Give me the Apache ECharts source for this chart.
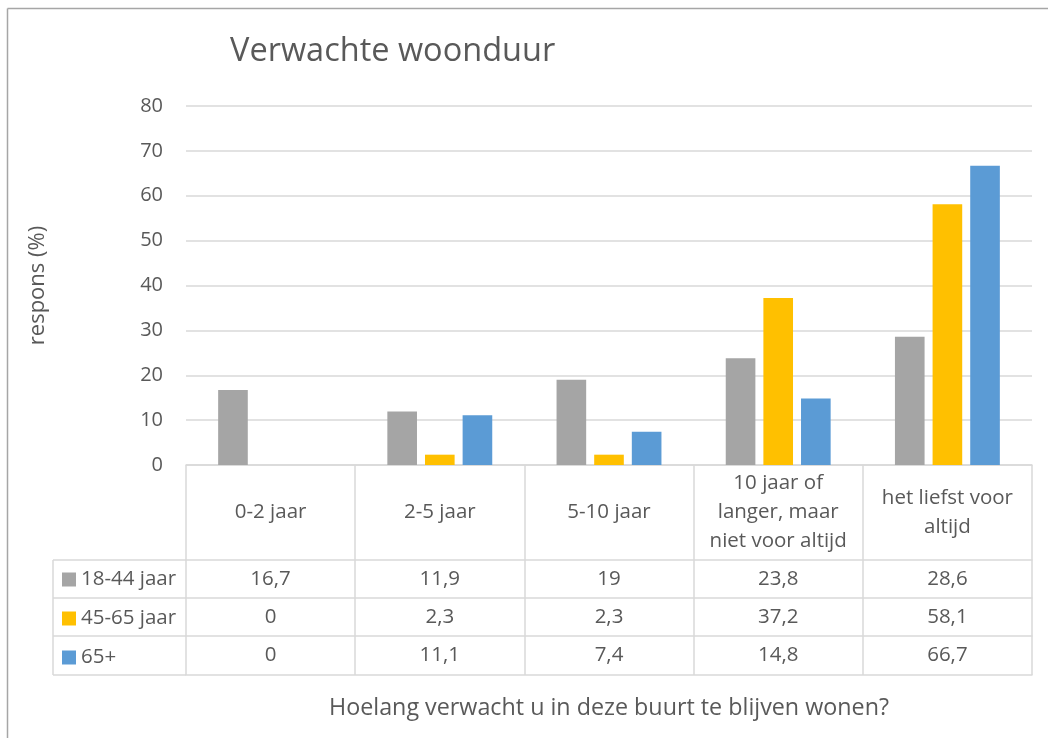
<!DOCTYPE html>
<html>
<head>
<meta charset="utf-8">
<script src="https://cdn.jsdelivr.net/npm/echarts@6/dist/echarts.min.js"></script>
<style>
  html, body { margin: 0; padding: 0; background: #fff; }
  #main { width: 1048px; height: 738px; }
</style>
</head>
<body>
<div id="main"></div>
<script>
// data
const categories = ['0-2 jaar', '2-5 jaar', '5-10 jaar', '10 jaar of\nlanger, maar\nniet voor altijd', 'het liefst voor\naltijd'];
const seriesNames = ['18-44 jaar', '45-65 jaar', '65+'];
const young = [16.7, 11.9, 19, 23.8, 28.6];
const middle = [0, 2.3, 2.3, 37.2, 58.1];
const senior = [0, 11.1, 7.4, 14.8, 66.7];
const yTicks = [0, 80, 10]; // min, max, interval

const colors = ['#A5A5A5', '#FFC000', '#5B9BD5'];
const txt = '#595959';
const line = '#D9D9D9';
const font = '"Open Sans", Lato, sans-serif';

// layout of plot + data table
const gLeft = 186, gRight = 1032, gTop = 106, gBottom = 465;
const rowTops = [560, 598, 636, 675];
const tableLeft = 53;

const fmt = v => String(v).replace('.', ',');
const rows = [young, middle, senior];

let myChart = echarts.init(document.getElementById('main'));

let xAxes = [{
  type: 'category',
  data: categories,
  position: 'bottom',
  axisLine: { lineStyle: { color: line, width: 1.5 } },
  axisTick: { show: true, length: rowTops[3] - gBottom, lineStyle: { color: line, width: 1.5 } },
  axisLabel: {
    color: txt, fontSize: 20.5, fontFamily: font, lineHeight: 29,
    verticalAlign: 'middle', margin: (rowTops[0] - gBottom) / 2, interval: 0
  }
}];
rows.forEach((r, i) => {
  xAxes.push({
    type: 'category',
    data: r.map(fmt),
    position: 'bottom',
    offset: rowTops[i] - gBottom,
    axisLine: { lineStyle: { color: line, width: 1.5 } },
    axisTick: { show: false },
    axisLabel: {
      color: txt, fontSize: 20.5, fontFamily: font,
      verticalAlign: 'middle', margin: (rowTops[i + 1] - rowTops[i]) / 2, interval: 0
    }
  });
});
xAxes.push({
  type: 'category',
  data: categories,
  position: 'bottom',
  offset: rowTops[3] - gBottom,
  axisLine: { lineStyle: { color: line, width: 1.5 } },
  axisTick: { show: false },
  axisLabel: { show: false },
  name: 'Hoelang verwacht u in deze buurt te blijven wonen?',
  nameLocation: 'middle',
  nameGap: 22,
  nameTextStyle: { color: txt, fontSize: 23.3, fontFamily: font }
});

// legend column lines (left of the plot area)
let tableLines = rowTops.map(y => ({
  type: 'line', shape: { x1: tableLeft, y1: y, x2: gLeft, y2: y },
  style: { stroke: line, lineWidth: 1.5 }
}));
tableLines.push({
  type: 'line', shape: { x1: tableLeft, y1: rowTops[0], x2: tableLeft, y2: rowTops[3] },
  style: { stroke: line, lineWidth: 1.5 }
});

let option = {
  backgroundColor: '#fff',
  animation: false,
  color: colors,
  title: {
    text: 'Verwachte woonduur',
    left: 225, top: 30,
    textStyle: { color: txt, fontSize: 32.5, fontWeight: 'normal', fontFamily: font }
  },
  legend: {
    data: seriesNames,
    orient: 'vertical',
    left: 62, top: rowTops[0] + 9,
    padding: 0,
    itemWidth: 14, itemHeight: 14, itemGap: 18,
    icon: 'rect',
    textStyle: { color: txt, fontSize: 20.5, fontFamily: font, lineHeight: 20 }
  },
  grid: { left: gLeft, right: 1048 - gRight, top: gTop, bottom: 738 - gBottom, containLabel: false },
  xAxis: xAxes,
  yAxis: {
    type: 'value',
    min: yTicks[0], max: yTicks[1], interval: yTicks[2],
    axisLine: { show: false },
    axisTick: { show: false },
    axisLabel: { color: txt, fontSize: 20, fontFamily: font, margin: 23 },
    splitLine: { lineStyle: { color: line, width: 1.5 } },
    name: 'respons (%)',
    nameLocation: 'middle',
    nameGap: 137,
    nameTextStyle: { color: txt, fontSize: 22, fontFamily: font }
  },
  series: [
    { name: seriesNames[0], type: 'bar', data: young, barGap: '27%', barCategoryGap: '38%' },
    { name: seriesNames[1], type: 'bar', data: middle, barGap: '27%', barCategoryGap: '38%' },
    { name: seriesNames[2], type: 'bar', data: senior, barGap: '27%', barCategoryGap: '38%' }
  ],
  graphic: tableLines.concat([
    { type: 'line', shape: { x1: 7.5, y1: 8.5, x2: 1048, y2: 8.5 }, style: { stroke: '#A6A6A6', lineWidth: 1.5 } },
    { type: 'line', shape: { x1: 7.5, y1: 8.5, x2: 7.5, y2: 738 }, style: { stroke: '#A6A6A6', lineWidth: 1.5 } }
  ])
};

myChart.setOption(option);
</script>
</body>
</html>
